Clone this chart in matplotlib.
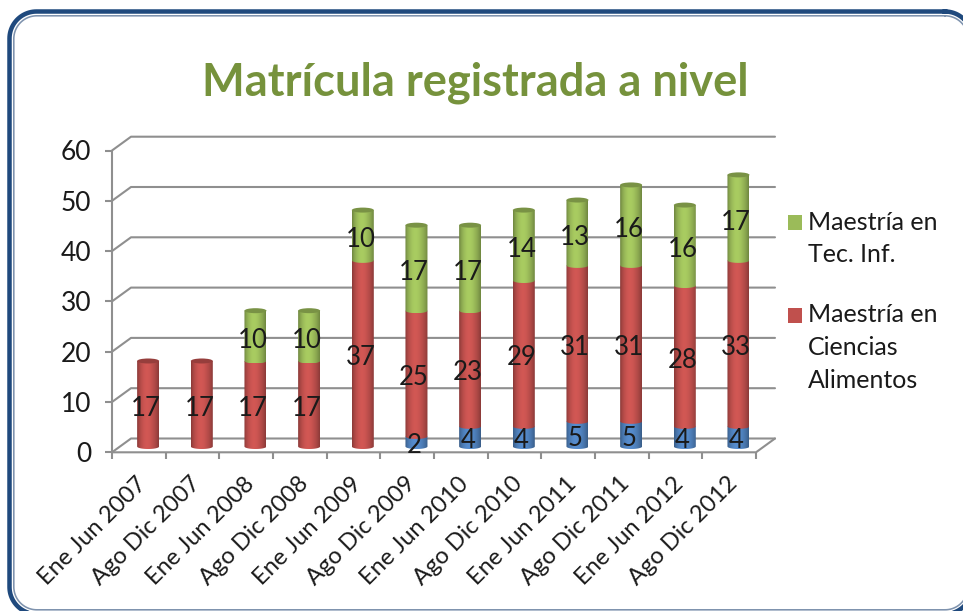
import numpy as np
import matplotlib
matplotlib.use("Agg")
import matplotlib.pyplot as plt
from matplotlib.patches import Ellipse, PathPatch, Rectangle
from matplotlib.path import Path
from matplotlib.colors import to_rgb

categories = ["Ene Jun 2007", "Ago Dic 2007", "Ene Jun 2008", "Ago Dic 2008",
              "Ene Jun 2009", "Ago Dic 2009", "Ene Jun 2010", "Ago Dic 2010",
              "Ene Jun 2011", "Ago Dic 2011", "Ene Jun 2012", "Ago Dic 2012"]
blue_values = [0, 0, 0, 0, 0, 2, 4, 4, 5, 5, 4, 4]
red_values = [17, 17, 17, 17, 37, 25, 23, 29, 31, 31, 28, 33]
green_values = [0, 0, 10, 10, 10, 17, 17, 14, 13, 16, 16, 17]
red_lines = ["Maestría en", "Ciencias", "Alimentos"]
green_lines = ["Maestría en", "Tec. Inf."]
title_text = "Matrícula registrada a nivel"
y_ticks = [0, 10, 20, 30, 40, 50, 60]

W, H = 963, 611
FONT = "Lato"
TEXT = "#1a1a1a"
BLUE, RED, GREEN = "#4F81BD", "#C0504D", "#9BBB59"
GRID = "#8f8f8f"

fig = plt.figure(figsize=(W / 100, H / 100), dpi=100, facecolor="white")

# frame (runs off the right and bottom edges of the picture)
bg = fig.add_axes([0, 0, 1, 1], zorder=0)
bg.set_xlim(0, W); bg.set_ylim(H, 0); bg.axis("off")
def rr(x0, y0, x1, y1, r, color, lw):
    pts = []
    for cx, cy, a0 in ((x1 - r, y0 + r, -90), (x1 - r, y1 - r, 0),
                       (x0 + r, y1 - r, 90), (x0 + r, y0 + r, 180)):
        a = np.radians(np.linspace(a0, a0 + 90, 24))
        pts.append(np.c_[cx + r * np.cos(a), cy + r * np.sin(a)])
    pts = np.vstack(pts + [pts[0][:1]])
    bg.plot(pts[:, 0], pts[:, 1], color=color, lw=lw * 0.72, clip_on=True,
            solid_joinstyle="round")
rr(9.5, 11.5, 972, 614, 27, "#1F497D", 4.5)
rr(13.8, 15.8, 968, 609.8, 23, "#7F93AE", 1.6)
bg.set_xlim(0, W); bg.set_ylim(H, 0)

# plot area: front plane
L, R, T, B = 112, 756, 150.5, 452.3
ax = fig.add_axes([L / W, 1 - B / H, (R - L) / W, (B - T) / H], zorder=1)
ax.set_xlim(0, 12); ax.set_ylim(0, 60)
ax.patch.set_alpha(0)
for s in ax.spines.values():
    s.set_visible(False)
px, py = 12 / (R - L), 60 / (B - T)
dx, dy = 19 * px, 13.8 * py       # depth of the box

line = dict(color=GRID, lw=1.5, clip_on=False, solid_capstyle="round", zorder=1)
for v in y_ticks:
    ax.plot([0, dx, 12 + dx], [v, v + dy, v + dy], **line)
ax.plot([0, 12, 12 + dx], [0, 0, dy], **line)
ax.plot([0, 0], [0, 60], **line)

ax.set_yticks(y_ticks)
ax.set_yticklabels([str(v) for v in y_ticks], fontname=FONT, fontsize=19, color=TEXT)
ax.set_xticks(np.arange(13))
ax.set_xticklabels([])
ax.tick_params(axis="both", color=GRID, width=1.5, length=5)
ax.tick_params(axis="y", pad=10)
for i, c in enumerate(categories):
    ax.annotate(c, xy=(i + 0.5, 0), xytext=(-2, -15), textcoords="offset points",
                rotation=45, ha="right", va="top", rotation_mode="anchor",
                fontname=FONT, fontsize=17, color=TEXT, annotation_clip=False)

# cylinders
bw = 22 * px
eh = 2.5 * py
bar_dx, bar_dy = 9.3 * px, 5.8 * py
ramp = np.array([0.72, 0.88, 0.98, 1.05, 1.09, 1.09, 1.06, 1.0, 0.93, 0.84, 0.72])
ramp = np.interp(np.linspace(0, 10, 60), np.arange(11), ramp)

def cylinder(cx, y0, y1, color, z, cap):
    base = np.array(to_rgb(color))
    img = np.clip(base[None, None, :] * ramp[None, :, None], 0, 1)
    t = np.linspace(np.pi, 2 * np.pi, 40)
    xb = cx + bw / 2 * np.cos(t); yb = y0 - eh * np.abs(np.sin(t))
    xt = xb[::-1]; yt = np.full_like(xt, y1)
    verts = np.r_[np.c_[xb, yb], np.c_[xt, yt], [[xb[0], yb[0]]]]
    im = ax.imshow(img, extent=(cx - bw / 2, cx + bw / 2, y0 - eh, y1), aspect="auto",
                   zorder=z, interpolation="bilinear")
    im.set_clip_path(PathPatch(Path(verts), transform=ax.transData))
    if cap:
        ax.add_patch(Ellipse((cx, y1), bw, 2 * eh, fc=base * 0.78, ec="none",
                             zorder=z + 0.1, clip_on=False))

for i in range(len(categories)):
    cx = i + 0.5 + bar_dx
    base = bar_dy
    vals = [(blue_values[i], BLUE), (red_values[i], RED), (green_values[i], GREEN)]
    top = max(k for k, (v, _) in enumerate(vals) if v > 0)
    for k, (v, col) in enumerate(vals):
        if v > 0:
            cylinder(cx, base, base + v, col, 3 + k, k == top)
            base += v

ax.set_xlim(0, 12); ax.set_ylim(0, 60)

# data labels
for i in range(len(categories)):
    base = 0
    for v in (blue_values[i], red_values[i], green_values[i]):
        if v > 0:
            ax.annotate(str(v), xy=(i + 0.5, base + v / 2), xytext=(5, 1),
                        textcoords="offset points", ha="center", va="center",
                        fontname=FONT, fontsize=18.5, color=TEXT, zorder=10,
                        annotation_clip=False)
            base += v

# title
bg.text(475, 82.5, title_text, ha="center", va="center", fontname=FONT,
        fontweight="bold", fontsize=32.6, color="#76923C")

# legend
for col, lines, y0 in ((GREEN, green_lines, 222.5), (RED, red_lines, 315)):
    bg.add_patch(Rectangle((787.5, y0 - 7.5), 14, 15, fc=col, ec="none"))
    for j, s in enumerate(lines):
        bg.text(808, y0 + j * 32.5, s, ha="left", va="center", fontname=FONT,
                fontsize=18, color=TEXT)

fig.savefig("out.png", dpi=100)
